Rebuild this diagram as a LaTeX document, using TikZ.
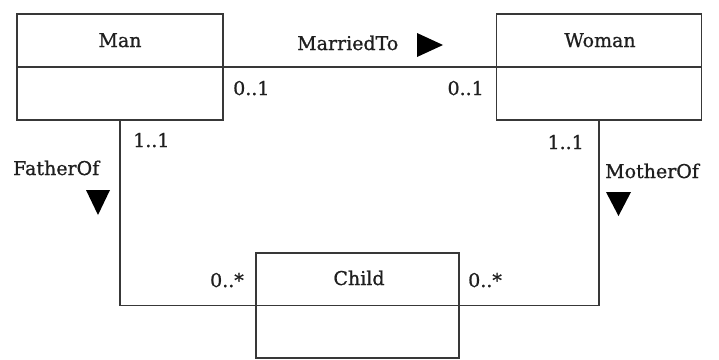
\documentclass[tikz,border=0pt]{standalone}
\usepackage{fontspec}
\setmainfont{DejaVu Serif}[FakeBold=0.9]
\begin{document}
\begin{tikzpicture}[x=1pt,y=-1pt,
  every node/.style={font=\fontsize{19}{23}\selectfont, text=black!88, inner sep=0pt},
  cls/.style={draw=black!78, line width=1.2pt, rectangle, minimum width=#1, minimum height=106pt},
  conn/.style={draw=black!78, line width=1.2pt},
  lbl/.style={anchor=base west},
  lble/.style={anchor=base east},
  ttl/.style={anchor=base},
  tri/.style={fill=black}]
\useasboundingbox (0,0) rectangle (719,359);
% class boxes
\node[cls=206pt] (man) at (120,67) {};
\node[cls=205pt] (woman) at (599,67) {};
\node[cls=203pt, minimum height=105pt] (child) at (357.5,305.5) {};
% compartment dividers
\draw[conn] (man.west) -- (man.east);
\draw[conn] (woman.west) -- (woman.east);
\draw[conn] (child.west) -- (child.east);
% titles
\node[ttl] (mant) at (120,47) {Man};
\node[ttl] (womant) at (600,47) {Woman};
\node[ttl] (childt) at (359,285) {Child};
% associations
\draw[conn] (man.east) -- (woman.west);
\draw[conn] (man.south) |- (child.west);
\draw[conn] (woman.south) |- (child.east);
% association names
\node[lbl] (married) at (297,50) {MarriedTo};
\fill[tri] (417,33) -- (443,45) -- (417,57) -- cycle;
\node[lbl] (father) at (13,175) {FatherOf};
\fill[tri] (86,190) -- (110,190) -- (98,215) -- cycle;
\node[lbl] (mother) at (605,178) {MotherOf};
\fill[tri] (606,192) -- (631,192) -- (618.5,216) -- cycle;
% multiplicities
\node[lbl] (m1) at (233,95) {0..1};
\node[lble] (m2) at (484,95) {0..1};
\node[lbl] (m3) at (133,147) {1..1};
\node[lble] (m4) at (584,149) {1..1};
\node[lble] (m5) at (244,287) {0..*};
\node[lbl] (m6) at (468,287) {0..*};
\end{tikzpicture}
\end{document}
